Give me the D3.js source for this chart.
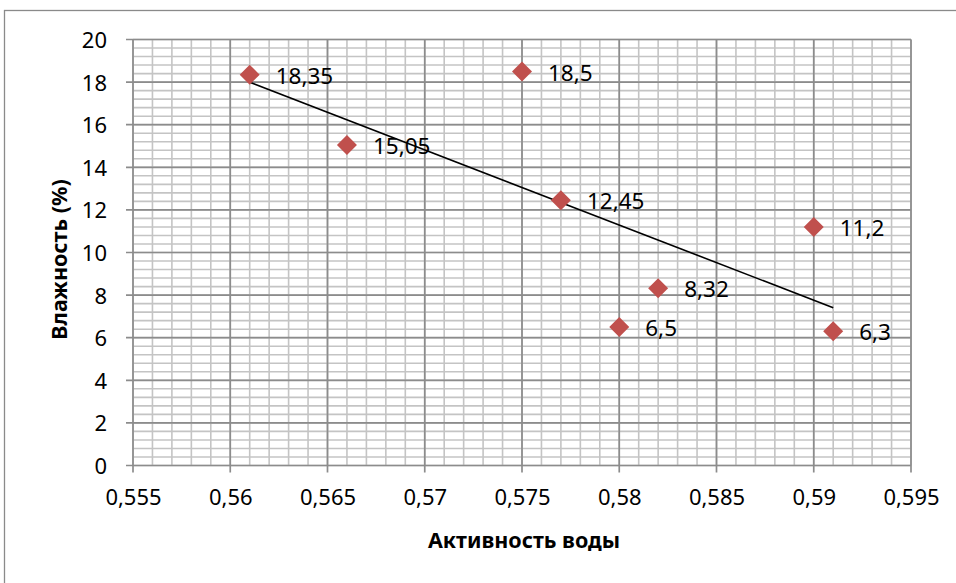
<!DOCTYPE html>
<html>
<head>
<meta charset="utf-8">
<script src="https://cdn.jsdelivr.net/npm/d3@7/dist/d3.min.js"></script>
<style>
  html, body { margin: 0; padding: 0; background: #fff; }
  svg { display: block; }
  text { font-family: "Noto Sans", "Open Sans", sans-serif; fill: #000; }
</style>
</head>
<body>
<svg id="chart" width="956" height="583"></svg>
<script>
// Water activity (x) and moisture content, % (y)
const activity = [0.561, 0.566, 0.575, 0.577, 0.58, 0.582, 0.59, 0.591];
const moisture = [18.35, 15.05, 18.5, 12.45, 6.5, 8.32, 11.2, 6.3];
const pointLabels = ["18,35", "15,05", "18,5", "12,45", "6,5", "8,32", "11,2", "6,3"];

const xTicks = [0.555, 0.56, 0.565, 0.57, 0.575, 0.58, 0.585, 0.59, 0.595];
const xTickLabels = ["0,555", "0,56", "0,565", "0,57", "0,575", "0,58", "0,585", "0,59", "0,595"];
const yTicks = [0, 2, 4, 6, 8, 10, 12, 14, 16, 18, 20];
const xMinorTicks = d3.range(0, 41).map(i => 0.555 + i * 0.001);
const yMinorTicks = d3.range(0, 51).map(i => i * 0.4);

const xTitle = "Активность воды";
const yTitle = "Влажность (%)";

const svg = d3.select("#chart");
const plot = { left: 133, right: 911, top: 39.5, bottom: 465.5 };

const x = d3.scaleLinear().domain([0.555, 0.595]).range([plot.left, plot.right]);
const y = d3.scaleLinear().domain([0, 20]).range([plot.bottom, plot.top]);

// Chart frame
svg.append("rect")
  .attr("x", 4.5).attr("y", 10.5)
  .attr("width", 960).attr("height", 600)
  .attr("fill", "none").attr("stroke", "#8a8a8a").attr("stroke-width", 1.3);

// Minor gridlines
const grid = svg.append("g");
grid.selectAll("line.xm").data(xMinorTicks).join("line")
  .attr("x1", d => x(d)).attr("x2", d => x(d))
  .attr("y1", plot.top).attr("y2", plot.bottom)
  .attr("stroke", "#c4c4c4").attr("stroke-width", 1.6);
grid.selectAll("line.ym").data(yMinorTicks).join("line")
  .attr("x1", plot.left).attr("x2", plot.right)
  .attr("y1", d => y(d)).attr("y2", d => y(d))
  .attr("stroke", "#c4c4c4").attr("stroke-width", 1.6);

// Major gridlines (extended past the plot edge as tick marks)
grid.selectAll("line.xM").data(xTicks).join("line")
  .attr("x1", d => x(d)).attr("x2", d => x(d))
  .attr("y1", plot.top).attr("y2", plot.bottom + 7)
  .attr("stroke", "#8c8c8c").attr("stroke-width", 1.7);
grid.selectAll("line.yM").data(yTicks).join("line")
  .attr("x1", plot.left - 7).attr("x2", plot.right)
  .attr("y1", d => y(d)).attr("y2", d => y(d))
  .attr("stroke", "#8c8c8c").attr("stroke-width", 1.7);

// Tick labels via axes
const xAxis = d3.axisBottom(x).tickValues(xTicks)
  .tickFormat((d, i) => xTickLabels[i]).tickSize(0).tickPadding(0);
const gx = svg.append("g").attr("transform", `translate(0,${plot.bottom})`).call(xAxis);
gx.select(".domain").remove();
gx.selectAll("text").attr("dy", null).attr("y", 39)
  .style("font-size", "22px").style("font-family", "'Noto Sans', sans-serif")
  .attr("fill", "#000");

const yAxis = d3.axisLeft(y).tickValues(yTicks).tickSize(0).tickPadding(0);
const gy = svg.append("g").attr("transform", `translate(${plot.left - 26},0)`).call(yAxis);
gy.select(".domain").remove();
gy.selectAll("text").attr("dy", "0.36em").attr("x", 0)
  .style("font-size", "22px").style("font-family", "'Noto Sans', sans-serif")
  .attr("fill", "#000");

// Linear trend line over the data range
const mx = d3.mean(activity), my = d3.mean(moisture);
const sxy = d3.sum(activity, (a, i) => (a - mx) * (moisture[i] - my));
const sxx = d3.sum(activity, a => (a - mx) ** 2);
const slope = sxy / sxx, intercept = my - slope * mx;
const xExtent = d3.extent(activity);
svg.append("line")
  .attr("x1", x(xExtent[0])).attr("y1", y(intercept + slope * xExtent[0]))
  .attr("x2", x(xExtent[1])).attr("y2", y(intercept + slope * xExtent[1]))
  .attr("stroke", "#000").attr("stroke-width", 1.6);

// Diamond markers
const pts = activity.map((a, i) => ({ a, m: moisture[i], label: pointLabels[i] }));
svg.append("g").selectAll("path").data(pts).join("path")
  .attr("transform", d => `translate(${x(d.a)},${y(d.m)})`)
  .attr("d", "M0,-10L10,0L0,10L-10,0Z")
  .attr("fill", "#c0504d");

// Value labels
svg.append("g").selectAll("text").data(pts).join("text")
  .attr("x", d => x(d.a) + 26).attr("y", d => y(d.m) + 1)
  .attr("dy", "0.36em")
  .style("font-size", "22.5px")
  .text(d => d.label);

// Axis titles
svg.append("text")
  .attr("x", (plot.left + plot.right) / 2 + 2).attr("y", 540)
  .attr("dy", "0.36em").attr("text-anchor", "middle")
  .style("font-size", "21.5px").style("font-weight", "bold")
  .text(xTitle);

svg.append("text")
  .attr("transform", `translate(59,${(plot.top + plot.bottom) / 2 + 7}) rotate(-90)`)
  .attr("dy", "0.36em").attr("text-anchor", "middle")
  .style("font-size", "21.5px").style("font-weight", "bold")
  .text(yTitle);
</script>
</body>
</html>
